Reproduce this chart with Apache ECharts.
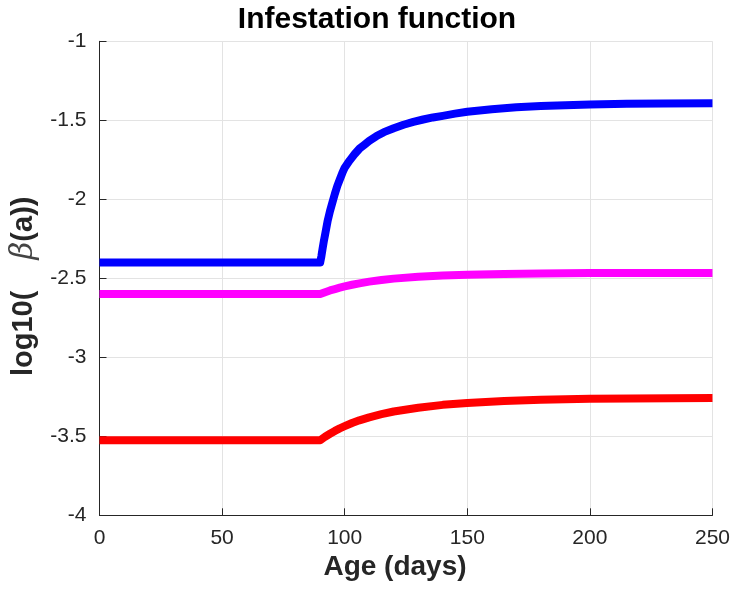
<!DOCTYPE html>
<html>
<head>
<meta charset="utf-8">
<script src="https://cdn.jsdelivr.net/npm/echarts@6/dist/echarts.min.js"></script>
<style>html,body{margin:0;padding:0;background:#fff}#c{width:733px;height:590px}</style>
</head>
<body>
<div id="c"></div>
<script>
// Age (days) sample points and log10(beta(a)) values
var blueAges = [0, 90, 90.5, 91, 91.5, 92, 93, 94, 95, 96, 97, 98, 99, 100, 102, 104, 106, 108, 110, 113, 116, 120, 124, 128, 132, 136, 140, 145, 150, 160, 170, 180, 190, 200, 215, 230, 250];
var blueVals = [-2.40, -2.40, -2.36, -2.31, -2.265, -2.225, -2.14, -2.075, -2.02, -1.965, -1.915, -1.875, -1.835, -1.80, -1.755, -1.715, -1.68, -1.655, -1.63, -1.60, -1.575, -1.55, -1.528, -1.51, -1.495, -1.482, -1.472, -1.458, -1.446, -1.43, -1.418, -1.41, -1.405, -1.40, -1.396, -1.393, -1.392];

var magentaAges = [0, 90, 92, 94, 96, 98, 100, 103, 106, 110, 115, 120, 130, 140, 150, 165, 180, 200, 250];
var magentaVals = [-2.60, -2.60, -2.588, -2.577, -2.568, -2.559, -2.551, -2.541, -2.532, -2.521, -2.511, -2.502, -2.490, -2.482, -2.477, -2.472, -2.469, -2.467, -2.466];

var redAges = [0, 90, 92, 94, 96, 98, 100, 103, 106, 110, 115, 120, 130, 140, 150, 165, 180, 200, 250];
var redVals = [-3.525, -3.525, -3.503, -3.484, -3.466, -3.450, -3.436, -3.416, -3.399, -3.380, -3.360, -3.343, -3.319, -3.301, -3.289, -3.277, -3.269, -3.263, -3.258];

var titleText = 'Infestation function';
var xName = 'Age (days)';

function pairs(a, v) { return a.map(function (x, i) { return [x, v[i]]; }); }

var chart = echarts.init(document.getElementById('c'), null, { renderer: 'canvas' });
var font = 'Liberation Sans, Arial, Helvetica, sans-serif';
var axisColor = '#262626';
function lineSeries(data, color) {
  return { type: 'line', data: data, smooth: false, showSymbol: false, clip: true,
    lineStyle: { color: color, width: 8, join: 'round', cap: 'butt' } };
}
chart.setOption({
  backgroundColor: '#fff',
  animation: false,
  title: {
    text: titleText,
    left: 372, textAlign: 'center', top: 0,
    textStyle: { fontFamily: font, fontSize: 30, fontWeight: 'bold', color: '#000' }
  },
  grid: { left: 99.5, right: 17, top: 41.3, bottom: 74.7, containLabel: false },
  xAxis: {
    type: 'value', min: 0, max: 250, interval: 50,
    name: xName, nameLocation: 'middle', nameGap: 36,
    nameTextStyle: { fontFamily: font, fontSize: 28, fontWeight: 'bold', color: '#262626', padding: [0, 22, 0, 0] },
    axisLine: { show: true, onZero: false, lineStyle: { color: axisColor, width: 1 } },
    axisTick: { show: true, inside: true, length: 7, lineStyle: { color: axisColor } },
    axisLabel: { fontFamily: font, fontSize: 21, color: '#262626', margin: 12 },
    splitLine: { show: true, lineStyle: { color: '#e3e3e3', width: 1 } }
  },
  yAxis: {
    type: 'value', min: -4, max: -1, interval: 0.5,
    name: '{b|log10(}{g|    }{i|β}{b|(a))}', nameLocation: 'middle', nameGap: 57, nameRotate: 90,
    nameTextStyle: {
      color: '#262626', padding: [0, 16, 0, 0],
      rich: {
        b: { fontFamily: font, fontSize: 29, fontWeight: 'bold', color: '#262626' },
        g: { fontFamily: font, fontSize: 28, fontWeight: 'bold' },
        i: { fontFamily: 'DejaVu Serif, serif', fontSize: 31, fontStyle: 'italic', fontWeight: 'normal', color: '#444' }
      }
    },
    axisLine: { show: true, onZero: false, lineStyle: { color: axisColor, width: 1 } },
    axisTick: { show: true, inside: true, length: 7, lineStyle: { color: axisColor } },
    axisLabel: { fontFamily: font, fontSize: 21, color: '#262626', margin: 13 },
    splitLine: { show: true, lineStyle: { color: '#e3e3e3', width: 1 } }
  },
  series: [
    lineSeries(pairs(blueAges, blueVals), '#0000ff'),
    lineSeries(pairs(magentaAges, magentaVals), '#ff00ff'),
    lineSeries(pairs(redAges, redVals), '#ff0000')
  ]
});
</script>
</body>
</html>
